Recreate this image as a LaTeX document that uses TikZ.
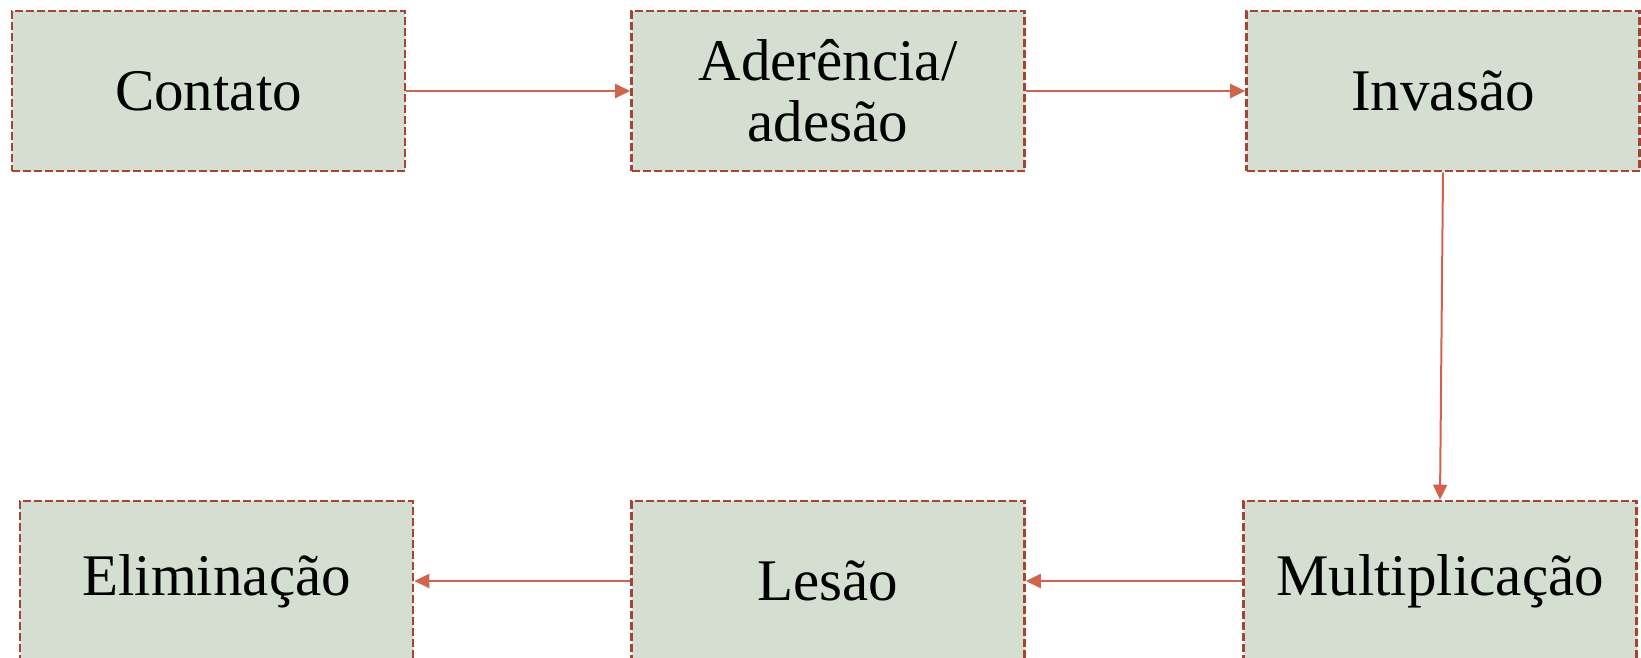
\documentclass[tikz,border=0pt]{standalone}
\usepackage{fontspec}
\setmainfont{Liberation Serif}
\usetikzlibrary{arrows.meta}
\definecolor{boxfill}{RGB}{212,223,209}
\definecolor{boxline}{RGB}{165,68,50}
\definecolor{arrowc}{RGB}{210,98,74}
\tikzset{
  stage/.style={rectangle, draw=boxline, fill=boxfill, line width=2.6pt,
    dash pattern=on 8pt off 3pt, minimum width=393pt, minimum height=160pt,
    inner sep=0pt, align=center, text=black,
    font=\fontsize{59}{61}\selectfont},
  flow/.style={draw=arrowc, line width=2pt, -{Triangle[length=15pt,width=14pt]}}
}
\begin{document}
\begin{tikzpicture}[x=1pt,y=-1pt]
\useasboundingbox (0,0) rectangle (1641,657);
\clip (0,0) rectangle (1641,657);
\node[stage] (con) at (208.5,91) {Contato};
\node[stage] (ade) at (828,91) {Aderência/\\adesão};
\node[stage] (inv) at (1443,91) {Invasão};
\node[stage] (eli) at (216.5,581) {Eliminação};
\node[stage] (les) at (828,581) {Lesão};
\node[stage] (mul) at (1440,581) {Multiplicação};
\draw[flow] (con.east) -- (ade.west);
\draw[flow] (ade.east) -- (inv.west);
\draw[flow] (inv.south) -- (mul.north);
\draw[flow] (mul.west) -- (les.east);
\draw[flow] (les.west) -- (eli.east);
\end{tikzpicture}
\end{document}
